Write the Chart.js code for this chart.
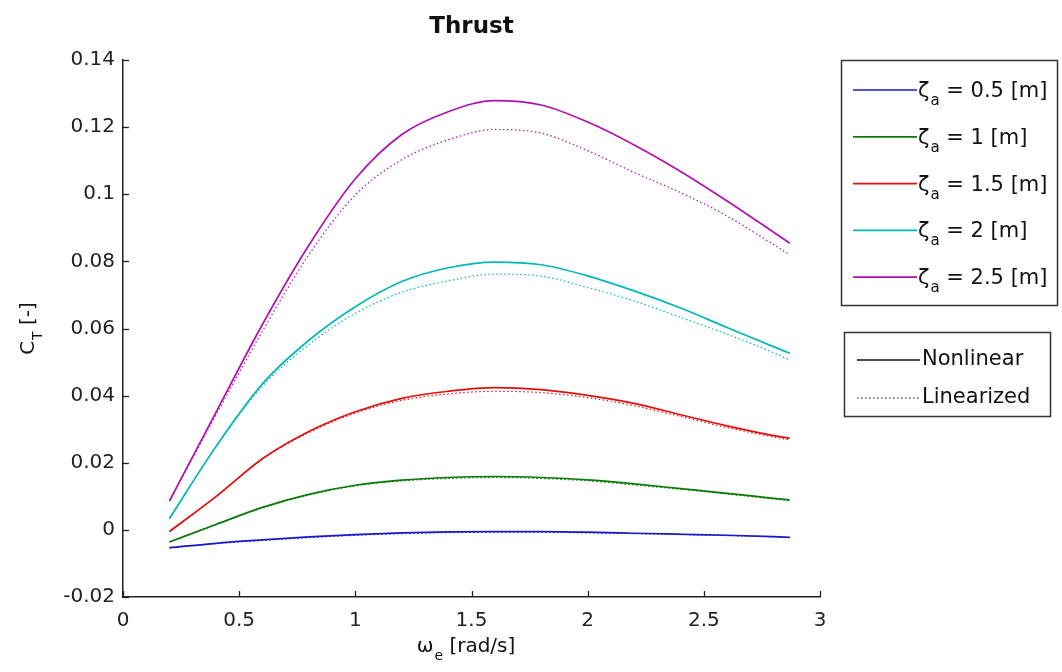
<!DOCTYPE html>
<html>
<head>
<meta charset="utf-8">
<title>Thrust</title>
<script src="https://cdn.jsdelivr.net/npm/chart.js@4/dist/chart.umd.min.js"></script>
<style>
  html, body { margin: 0; padding: 0; background: #fff; }
  #thrustChart { display: block; }
</style>
</head>
<body>
<canvas id="thrustChart" width="1062" height="672"></canvas>
<script>
// wave frequency [rad/s]
const omega = [0.2, 0.4, 0.6, 0.8, 1.0, 1.2, 1.4, 1.6, 1.8, 2.0, 2.2, 2.4, 2.6, 2.8, 2.87];

// amplitudes [m]
const zetaLabels = ["0.5", "1", "1.5", "2", "2.5"];
const zetaColors = ["#1a1acc", "#0a7a0a", "#e01010", "#00b8b8", "#b010b0"];

// thrust coefficient, nonlinear model
const ctNonlin05 = [-0.0053, -0.0040, -0.0030, -0.0021, -0.0014, -0.0009, -0.0006, -0.0005, -0.0005, -0.0007, -0.0010, -0.0013, -0.0016, -0.0020, -0.0022];
const ctNonlin10 = [-0.0036, 0.0016, 0.0067, 0.0106, 0.0133, 0.0148, 0.0156, 0.0159, 0.0156, 0.0149, 0.0137, 0.0123, 0.0109, 0.0094, 0.0089];
const ctNonlin15 = [-0.0005, 0.0099, 0.0212, 0.0293, 0.0352, 0.0392, 0.0413, 0.0424, 0.0418, 0.0401, 0.0377, 0.0343, 0.0310, 0.0281, 0.0273];
const ctNonlin20 = [0.0034, 0.0248, 0.0435, 0.0565, 0.0665, 0.0740, 0.0781, 0.0798, 0.0790, 0.0757, 0.0712, 0.0661, 0.0603, 0.0546, 0.0526];
const ctNonlin25 = [0.0086, 0.0350, 0.0612, 0.0848, 0.1046, 0.1178, 0.1246, 0.1279, 0.1266, 0.1215, 0.1147, 0.1068, 0.0980, 0.0887, 0.0854];

// thrust coefficient, linearized model
const ctLin05 = [-0.0054, -0.0041, -0.0031, -0.0023, -0.0016, -0.0011, -0.0008, -0.0007, -0.0007, -0.0009, -0.0011, -0.0014, -0.0017, -0.0021, -0.0023];
const ctLin10 = [-0.0036, 0.0016, 0.0066, 0.0104, 0.0131, 0.0146, 0.0153, 0.0156, 0.0153, 0.0146, 0.0134, 0.0121, 0.0107, 0.0092, 0.0087];
const ctLin15 = [-0.0005, 0.0099, 0.0211, 0.0290, 0.0348, 0.0386, 0.0405, 0.0413, 0.0409, 0.0394, 0.0370, 0.0338, 0.0305, 0.0277, 0.0268];
const ctLin20 = [0.0034, 0.0248, 0.0428, 0.0552, 0.0645, 0.0708, 0.0742, 0.0762, 0.0756, 0.0722, 0.0682, 0.0633, 0.0583, 0.0528, 0.0506];
const ctLin25 = [0.0086, 0.0342, 0.0592, 0.0820, 0.0998, 0.1103, 0.1162, 0.1193, 0.1182, 0.1130, 0.1065, 0.1005, 0.0935, 0.0850, 0.0819];

const nonlinSeries = [ctNonlin05, ctNonlin10, ctNonlin15, ctNonlin20, ctNonlin25];
const linSeries = [ctLin05, ctLin10, ctLin15, ctLin20, ctLin25];

const FONT = '"DejaVu Sans", Verdana, sans-serif';

function toPoints(values) {
    return values.map((v, i) => ({ x: omega[i], y: v }));
}

const datasets = [];
nonlinSeries.forEach((s, i) => {
    datasets.push({
        label: "nonlinear " + zetaLabels[i],
        data: toPoints(s),
        borderColor: zetaColors[i],
        borderWidth: 1.7,
        pointRadius: 0,
        cubicInterpolationMode: "monotone",
        fill: false
    });
});
linSeries.forEach((s, i) => {
    datasets.push({
        label: "linearized " + zetaLabels[i],
        data: toPoints(s),
        borderColor: zetaColors[i],
        borderWidth: 1.2,
        borderDash: [1.5, 2.5],
        pointRadius: 0,
        cubicInterpolationMode: "monotone",
        fill: false
    });
});

// text with a subscript: main, sub, rest; returns drawn width
function subText(ctx, x, y, main, sub, rest, size, measureOnly) {
    ctx.font = `${size}px ${FONT}`;
    const w1 = ctx.measureText(main).width;
    const w3 = ctx.measureText(rest).width;
    ctx.font = `${Math.round(size * 0.72)}px ${FONT}`;
    const w2 = ctx.measureText(sub).width;
    if (!measureOnly) {
        ctx.textAlign = "left";
        ctx.textBaseline = "alphabetic";
        ctx.font = `${size}px ${FONT}`;
        ctx.fillText(main, x, y);
        ctx.font = `${Math.round(size * 0.72)}px ${FONT}`;
        ctx.fillText(sub, x + w1 + 1, y + size * 0.38);
        ctx.font = `${size}px ${FONT}`;
        ctx.fillText(rest, x + w1 + w2 + 1, y);
    }
    return w1 + w2 + 1 + w3;
}

const decorPlugin = {
    id: "decor",
    afterDraw(chart) {
        const ctx = chart.ctx;
        const { left, right, top, bottom } = chart.chartArea;
        const xs = chart.scales.x;
        const ys = chart.scales.y;

        ctx.save();

        // inward tick marks
        ctx.strokeStyle = "#222";
        ctx.lineWidth = 1.3;
        xs.ticks.forEach(t => {
            const px = Math.round(xs.getPixelForValue(t.value)) + 0.5;
            ctx.beginPath();
            ctx.moveTo(px, bottom);
            ctx.lineTo(px, bottom - 6);
            ctx.stroke();
        });
        ys.ticks.forEach(t => {
            const py = Math.round(ys.getPixelForValue(t.value)) + 0.5;
            ctx.beginPath();
            ctx.moveTo(left, py);
            ctx.lineTo(left + 6, py);
            ctx.stroke();
        });

        ctx.fillStyle = "#111";

        // title
        ctx.font = `bold 23px ${FONT}`;
        ctx.textAlign = "center";
        ctx.textBaseline = "alphabetic";
        ctx.fillText("Thrust", (left + right) / 2, 33);

        // x axis title
        const wx = subText(ctx, 0, 0, "ω", "e", " [rad/s]", 20, true);
        subText(ctx, 466 - wx / 2, 652, "ω", "e", " [rad/s]", 20);

        // y axis title
        ctx.save();
        ctx.translate(34, (top + bottom) / 2);
        ctx.rotate(-Math.PI / 2);
        const wy = subText(ctx, 0, 0, "C", "T", " [-]", 20, true);
        subText(ctx, -wy / 2, 0, "C", "T", " [-]", 20);
        ctx.restore();

        // amplitude legend
        ctx.strokeStyle = "#333";
        ctx.lineWidth = 1.5;
        ctx.strokeRect(841.5, 60.5, 216, 245);
        zetaLabels.forEach((z, i) => {
            const yc = 90 + i * 46.8;
            ctx.strokeStyle = zetaColors[i];
            ctx.lineWidth = 1.7;
            ctx.setLineDash([]);
            ctx.beginPath();
            ctx.moveTo(853, yc);
            ctx.lineTo(917, yc);
            ctx.stroke();
            ctx.fillStyle = "#111";
            subText(ctx, 918, yc + 7, "ζ", "a", " = " + z + " [m]", 21);
        });

        // model legend
        ctx.strokeStyle = "#333";
        ctx.lineWidth = 1.5;
        ctx.strokeRect(844.5, 332.5, 206, 84);
        ctx.strokeStyle = "#111";
        ctx.lineWidth = 1.4;
        ctx.beginPath();
        ctx.moveTo(857, 360);
        ctx.lineTo(920, 360);
        ctx.stroke();
        ctx.lineWidth = 1.1;
        ctx.setLineDash([1.5, 2.5]);
        ctx.beginPath();
        ctx.moveTo(857, 398);
        ctx.lineTo(920, 398);
        ctx.stroke();
        ctx.setLineDash([]);
        ctx.font = `21px ${FONT}`;
        ctx.textAlign = "left";
        ctx.textBaseline = "middle";
        ctx.fillStyle = "#111";
        ctx.fillText("Nonlinear", 922, 360);
        ctx.fillText("Linearized", 922, 398);

        ctx.restore();
    }
};

new Chart(document.getElementById("thrustChart"), {
    type: "line",
    data: { datasets },
    options: {
        responsive: false,
        animation: false,
        layout: { padding: { left: 0, right: 242, top: 60, bottom: 0 } },
        plugins: {
            legend: { display: false },
            title: { display: false },
            tooltip: { enabled: false }
        },
        scales: {
            x: {
                type: "linear",
                min: 0,
                max: 3,
                afterFit: s => { s.height = 75; },
                ticks: {
                    stepSize: 0.5,
                    padding: 12,
                    color: "#222",
                    font: { family: FONT, size: 20 },
                    maxRotation: 0,
                    callback: v => Number(v.toFixed(2)).toString()
                },
                grid: { display: false, drawTicks: false },
                border: { display: true, color: "#222", width: 1.5 }
            },
            y: {
                type: "linear",
                min: -0.02,
                max: 0.14,
                afterFit: s => { s.width = 123; },
                ticks: {
                    stepSize: 0.02,
                    padding: 8,
                    color: "#222",
                    font: { family: FONT, size: 20 },
                    callback: v => Number(v.toFixed(2)).toString()
                },
                grid: { display: false, drawTicks: false },
                border: { display: true, color: "#222", width: 1.5 }
            }
        }
    },
    plugins: [decorPlugin]
});
</script>
</body>
</html>
